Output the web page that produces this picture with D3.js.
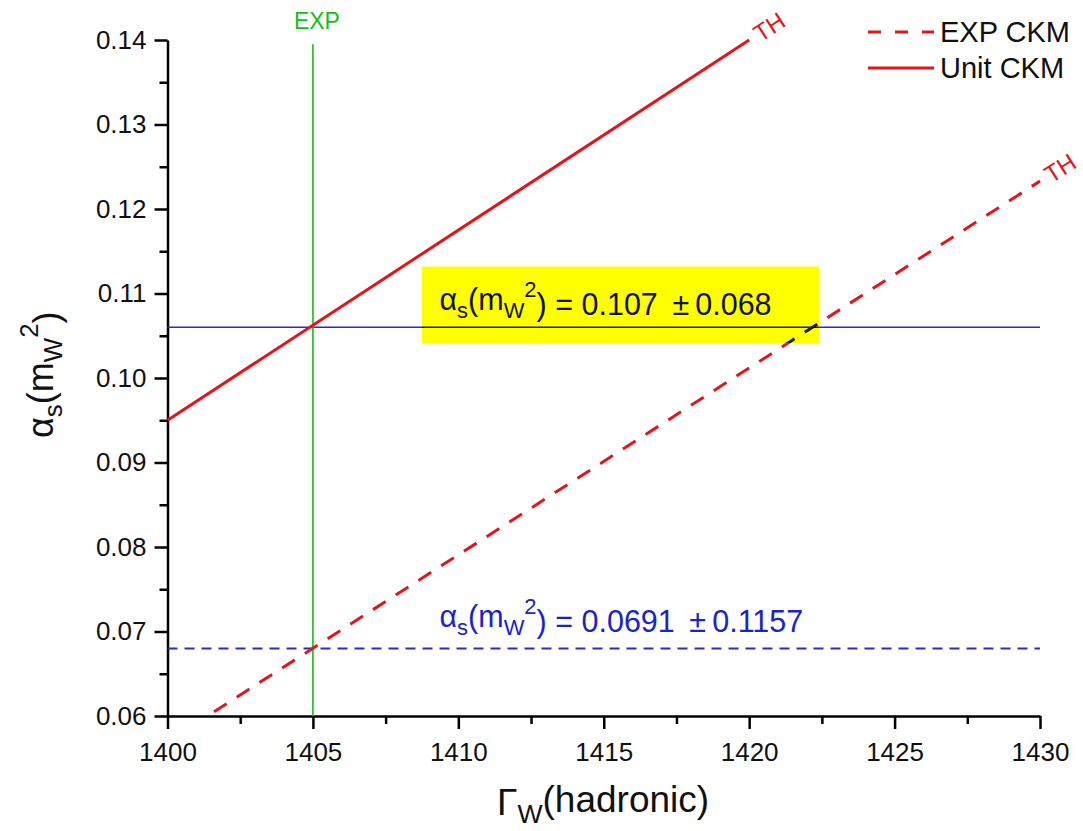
<!DOCTYPE html>
<html><head><meta charset="utf-8">
<script src="https://cdn.jsdelivr.net/npm/d3@7/dist/d3.min.js"></script>
<style>
body{margin:0;background:#fff;}
svg{display:block;font-family:"Liberation Sans",Arial,sans-serif;}
</style></head>
<body><svg id="c" width="1083" height="831"></svg>
<script>
// ---- data ----
const xTicks = [1400, 1405, 1410, 1415, 1420, 1425, 1430];
const xMinor = [1402.5, 1407.5, 1412.5, 1417.5, 1422.5, 1427.5];
const yTicks = [0.06, 0.07, 0.08, 0.09, 0.10, 0.11, 0.12, 0.13, 0.14];
const yMinor = [0.065, 0.075, 0.085, 0.095, 0.105, 0.115, 0.125, 0.135];
const unitX = [1400, 1420];
const unitY = [0.095, 0.140];
const expX = [1401.6, 1430];
const expY = [0.0605, 0.1233];
const expGamma = 1405;
const alphaUnit = 0.106;
const alphaExp = 0.068;
const seriesNames = ["EXP CKM", "Unit CKM"];
const labelUnit = ["0.107", "0.068"];
const labelExp = ["0.0691", "0.1157"];

// ---- layout ----
const RED = "#e4141c", BLUE = "#2a2ad0", GREEN = "#12c012";
const svg = d3.select("#c");
const x = d3.scaleLinear().domain([1400, 1430]).range([167.5, 1040]);
const y = d3.scaleLinear().domain([0.06, 0.14]).range([716, 40]);

// axes
const gx = svg.append("g").attr("transform", "translate(0,716)");
gx.call(d3.axisBottom(x).tickValues(xTicks).tickSize(13).tickSizeOuter(0).tickPadding(14).tickFormat(d3.format("d")));
const gxm = svg.append("g").attr("transform", "translate(0,716)");
gxm.call(d3.axisBottom(x).tickValues(xMinor).tickSize(8).tickSizeOuter(0).tickFormat(""));
gxm.select(".domain").remove();
const gy = svg.append("g").attr("transform", "translate(167.5,0)");
gy.call(d3.axisLeft(y).tickValues(yTicks).tickSize(13).tickSizeOuter(0).tickPadding(8).tickFormat(d3.format(".2f")));
const gym = svg.append("g").attr("transform", "translate(167.5,0)");
gym.call(d3.axisLeft(y).tickValues(yMinor).tickSize(8).tickSizeOuter(0).tickFormat(""));
gym.select(".domain").remove();
svg.selectAll(".domain, .tick line").attr("stroke", "#000").attr("stroke-width", 2.5);
svg.selectAll(".tick text").attr("font-size", 26).attr("fill", "#111").attr("font-family", "Liberation Sans, Arial, sans-serif");

const line = d3.line().x(d => x(d[0])).y(d => y(d[1]));
const unitPts = unitX.map((v, i) => [v, unitY[i]]);
const expPts = expX.map((v, i) => [v, expY[i]]);

// horizontal blue lines
svg.append("path").attr("d", line([[1400, alphaUnit], [1430, alphaUnit]]))
  .attr("stroke", BLUE).attr("stroke-width", 1.6).attr("fill", "none");
svg.append("path").attr("d", line([[1400, alphaExp], [1430, alphaExp]]))
  .attr("stroke", BLUE).attr("stroke-width", 2).attr("stroke-dasharray", "10,7").attr("fill", "none");

// green vertical
svg.append("path").attr("d", line([[expGamma, 0.06], [expGamma, 0.1395]]))
  .attr("stroke", GREEN).attr("stroke-width", 1.6).attr("fill", "none");
svg.append("text").attr("x", x(expGamma) + 4).attr("y", 29).attr("text-anchor", "middle")
  .attr("font-size", 23).attr("fill", GREEN).text("EXP");

// red lines
svg.append("path").attr("d", line(unitPts)).attr("stroke", RED).attr("stroke-width", 3).attr("fill", "none");
svg.append("path").attr("d", line(expPts)).attr("stroke", RED).attr("stroke-width", 3)
  .attr("stroke-dasharray", "15,12").attr("fill", "none");

// TH labels
function thLabel(pts) {
  const p0 = [x(pts[0][0]), y(pts[0][1])], p1 = [x(pts[1][0]), y(pts[1][1])];
  const ang = Math.atan2(p1[1] - p0[1], p1[0] - p0[0]);
  const ox = p1[0] + 8 * Math.cos(ang), oy = p1[1] + 8 * Math.sin(ang);
  svg.append("text").attr("transform", `translate(${ox},${oy}) rotate(${ang * 180 / Math.PI})`)
    .attr("font-size", 24).attr("fill", RED).attr("dy", "0.35em").text("TH");
}
thLabel(unitPts);
thLabel(expPts);

// yellow annotation box
const bx0 = x(1408.75), bx1 = x(1422.4), by0 = y(0.1132), by1 = y(0.1041);
svg.append("rect").attr("x", bx0).attr("y", by0).attr("width", bx1 - bx0).attr("height", by1 - by0).attr("fill", "#ffff00");
svg.append("clipPath").attr("id", "boxclip").append("rect")
  .attr("x", bx0).attr("y", by0).attr("width", bx1 - bx0).attr("height", by1 - by0);
const inBox = svg.append("g").attr("clip-path", "url(#boxclip)");
inBox.append("path").attr("d", line([[1400, alphaUnit], [1430, alphaUnit]]))
  .attr("stroke", "#1a1a10").attr("stroke-width", 1.6).attr("fill", "none");
inBox.append("path").attr("d", line(expPts)).attr("stroke", "#1a1a10").attr("stroke-width", 3)
  .attr("stroke-dasharray", "15,12").attr("fill", "none");

function alphaText(sel, vals) {
  sel.append("tspan").text("α");
  sel.append("tspan").attr("font-size", "0.72em").attr("dy", "0.35em").text("s");
  sel.append("tspan").attr("dy", "-0.25em").text("(m");
  sel.append("tspan").attr("font-size", "0.72em").attr("dy", "0.35em").text("W");
  sel.append("tspan").attr("font-size", "0.72em").attr("dy", "-0.95em").text("2");
  sel.append("tspan").attr("dy", "0.6em").text(`) = ${vals[0]}\u00a0\u2009±\u2009${vals[1]}`);
}
alphaText(svg.append("text").attr("x", x(1409.35)).attr("y", 310).attr("font-size", 30.5).attr("fill", "#111"), labelUnit);
alphaText(svg.append("text").attr("x", x(1409.35)).attr("y", 627).attr("font-size", 30.5).attr("fill", "#1a22cc"), labelExp);

// legend
const lg = svg.append("g");
lg.append("line").attr("x1", 868).attr("x2", 934).attr("y1", 32).attr("y2", 32)
  .attr("stroke", RED).attr("stroke-width", 3).attr("stroke-dasharray", "13,14");
lg.append("line").attr("x1", 868).attr("x2", 934).attr("y1", 68).attr("y2", 68)
  .attr("stroke", RED).attr("stroke-width", 3);
lg.append("text").attr("x", 940).attr("y", 32).attr("dy", "0.35em").attr("font-size", 29).attr("fill", "#111").text(seriesNames[0]);
lg.append("text").attr("x", 940).attr("y", 68).attr("dy", "0.35em").attr("font-size", 29).attr("fill", "#111").text(seriesNames[1]);

// axis titles
const xt = svg.append("text").attr("x", 497).attr("y", 815).attr("font-size", 37).attr("fill", "#111");
xt.append("tspan").text("Γ");
xt.append("tspan").attr("font-size", "0.72em").attr("dy", "0.3em").text("W");
xt.append("tspan").attr("dy", "-0.3em").text("(hadronic)");

const yt = svg.append("text").attr("transform", "translate(53,438) rotate(-90)").attr("font-size", 36).attr("fill", "#111");
yt.append("tspan").text("α");
yt.append("tspan").attr("font-size", "0.72em").attr("dy", "0.35em").text("s");
yt.append("tspan").attr("dy", "-0.25em").text("(m");
yt.append("tspan").attr("font-size", "0.72em").attr("dy", "0.35em").text("W");
yt.append("tspan").attr("font-size", "0.72em").attr("dy", "-0.95em").text("2");
yt.append("tspan").attr("dy", "0.6em").text(")");
</script></body></html>
